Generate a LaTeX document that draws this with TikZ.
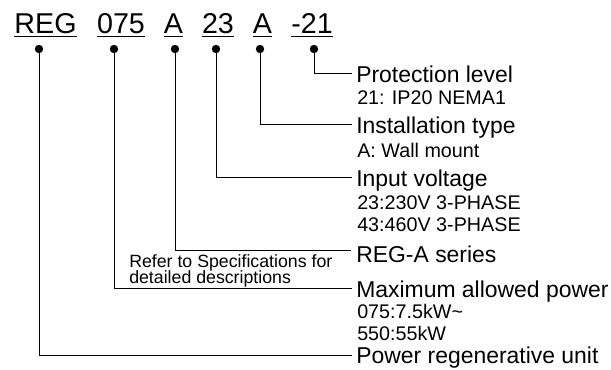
\documentclass[tikz,border=0pt]{standalone}
\usepackage{fontspec}
\setmainfont{Liberation Sans}
\usetikzlibrary{calc}

\begin{document}
\begin{tikzpicture}[x=0.75pt,y=-0.75pt,
	code/.style={anchor=base,inner sep=0pt,font=\fontsize{21.5}{24}\selectfont},
	title/.style={anchor=base west,inner sep=0pt,text height=12.4pt,text depth=0pt,font=\fontsize{17.2}{20}\selectfont},
	sub/.style={anchor=base west,inner sep=0pt,font=\fontsize{14.8}{17}\selectfont},
	note/.style={anchor=base west,inner sep=0pt,font=\fontsize{13.3}{15}\selectfont},
	uline/.style={line width=1.2pt},
	lead/.style={line width=0.7pt}]
	\useasboundingbox (0,0) rectangle (611,369);
	\node[code] (cREG) at (45.5,33) {REG};
	\node[code] (cPow) at (121,33) {075};
	\node[code] (cSer) at (173.5,33) {A};
	\node[code] (cVol) at (218,33) {23};
	\node[code] (cIns) at (262.5,33) {A};
	\node[code] (cPro) at (312,33) {-21};
	\foreach \c in {cREG,cPow,cSer,cVol,cIns,cPro}
		\draw[uline] ([yshift=-2.7pt]\c.base west)--([yshift=-2.7pt]\c.base east);
	\coordinate (dREG) at (39,49);
	\coordinate (dPow) at (114,49);
	\coordinate (dSer) at (175,49);
	\coordinate (dVol) at (216,49);
	\coordinate (dIns) at (260,49);
	\coordinate (dPro) at (314,49);
	\foreach \d in {dREG,dPow,dSer,dVol,dIns,dPro}
		\fill (\d) circle[radius=4.2];
	\node[title] (tPro) at (356,82) {Protection level};
	\node[sub] (sPro) at (357,104) {21: IP20 NEMA1};
	\node[title] (tIns) at (356,133) {Installation type};
	\node[sub] (sIns) at (357,157) {A: Wall mount};
	\node[title] (tVol) at (356,186) {Input voltage};
	\node[sub] (sVolA) at (357,209) {23:230V 3-PHASE};
	\node[sub] (sVolB) at (357,231) {43:460V 3-PHASE};
	\node[title] (tSer) at (356,262) {REG-A series};
	\node[note] (nSer) at (129,267) {Refer to Specifications for};
	\node[note] (nSerB) at (129,283) {detailed descriptions};
	\node[title] (tPow) at (356,297) {Maximum allowed power};
	\node[sub] (sPowA) at (357,318) {075:7.5kW\textasciitilde};
	\node[sub] (sPowB) at (357,340) {550:55kW};
	\node[title] (tREG) at (356,363.5) {Power regenerative unit};
	\draw[lead] (dPro) |- ([xshift=-3pt]tPro.west);
	\draw[lead] (dIns) |- ([xshift=-3pt]tIns.west);
	\draw[lead] (dVol) |- ([xshift=-3pt]tVol.west);
	\draw[lead] (dSer) |- ([xshift=-4pt,yshift=2.5pt]tSer.west);
	\draw[lead] (dPow) |- ([xshift=-3pt]tPow.west);
	\draw[lead] (dREG) |- ([xshift=-3pt]tREG.west);
\end{tikzpicture}
\end{document}
